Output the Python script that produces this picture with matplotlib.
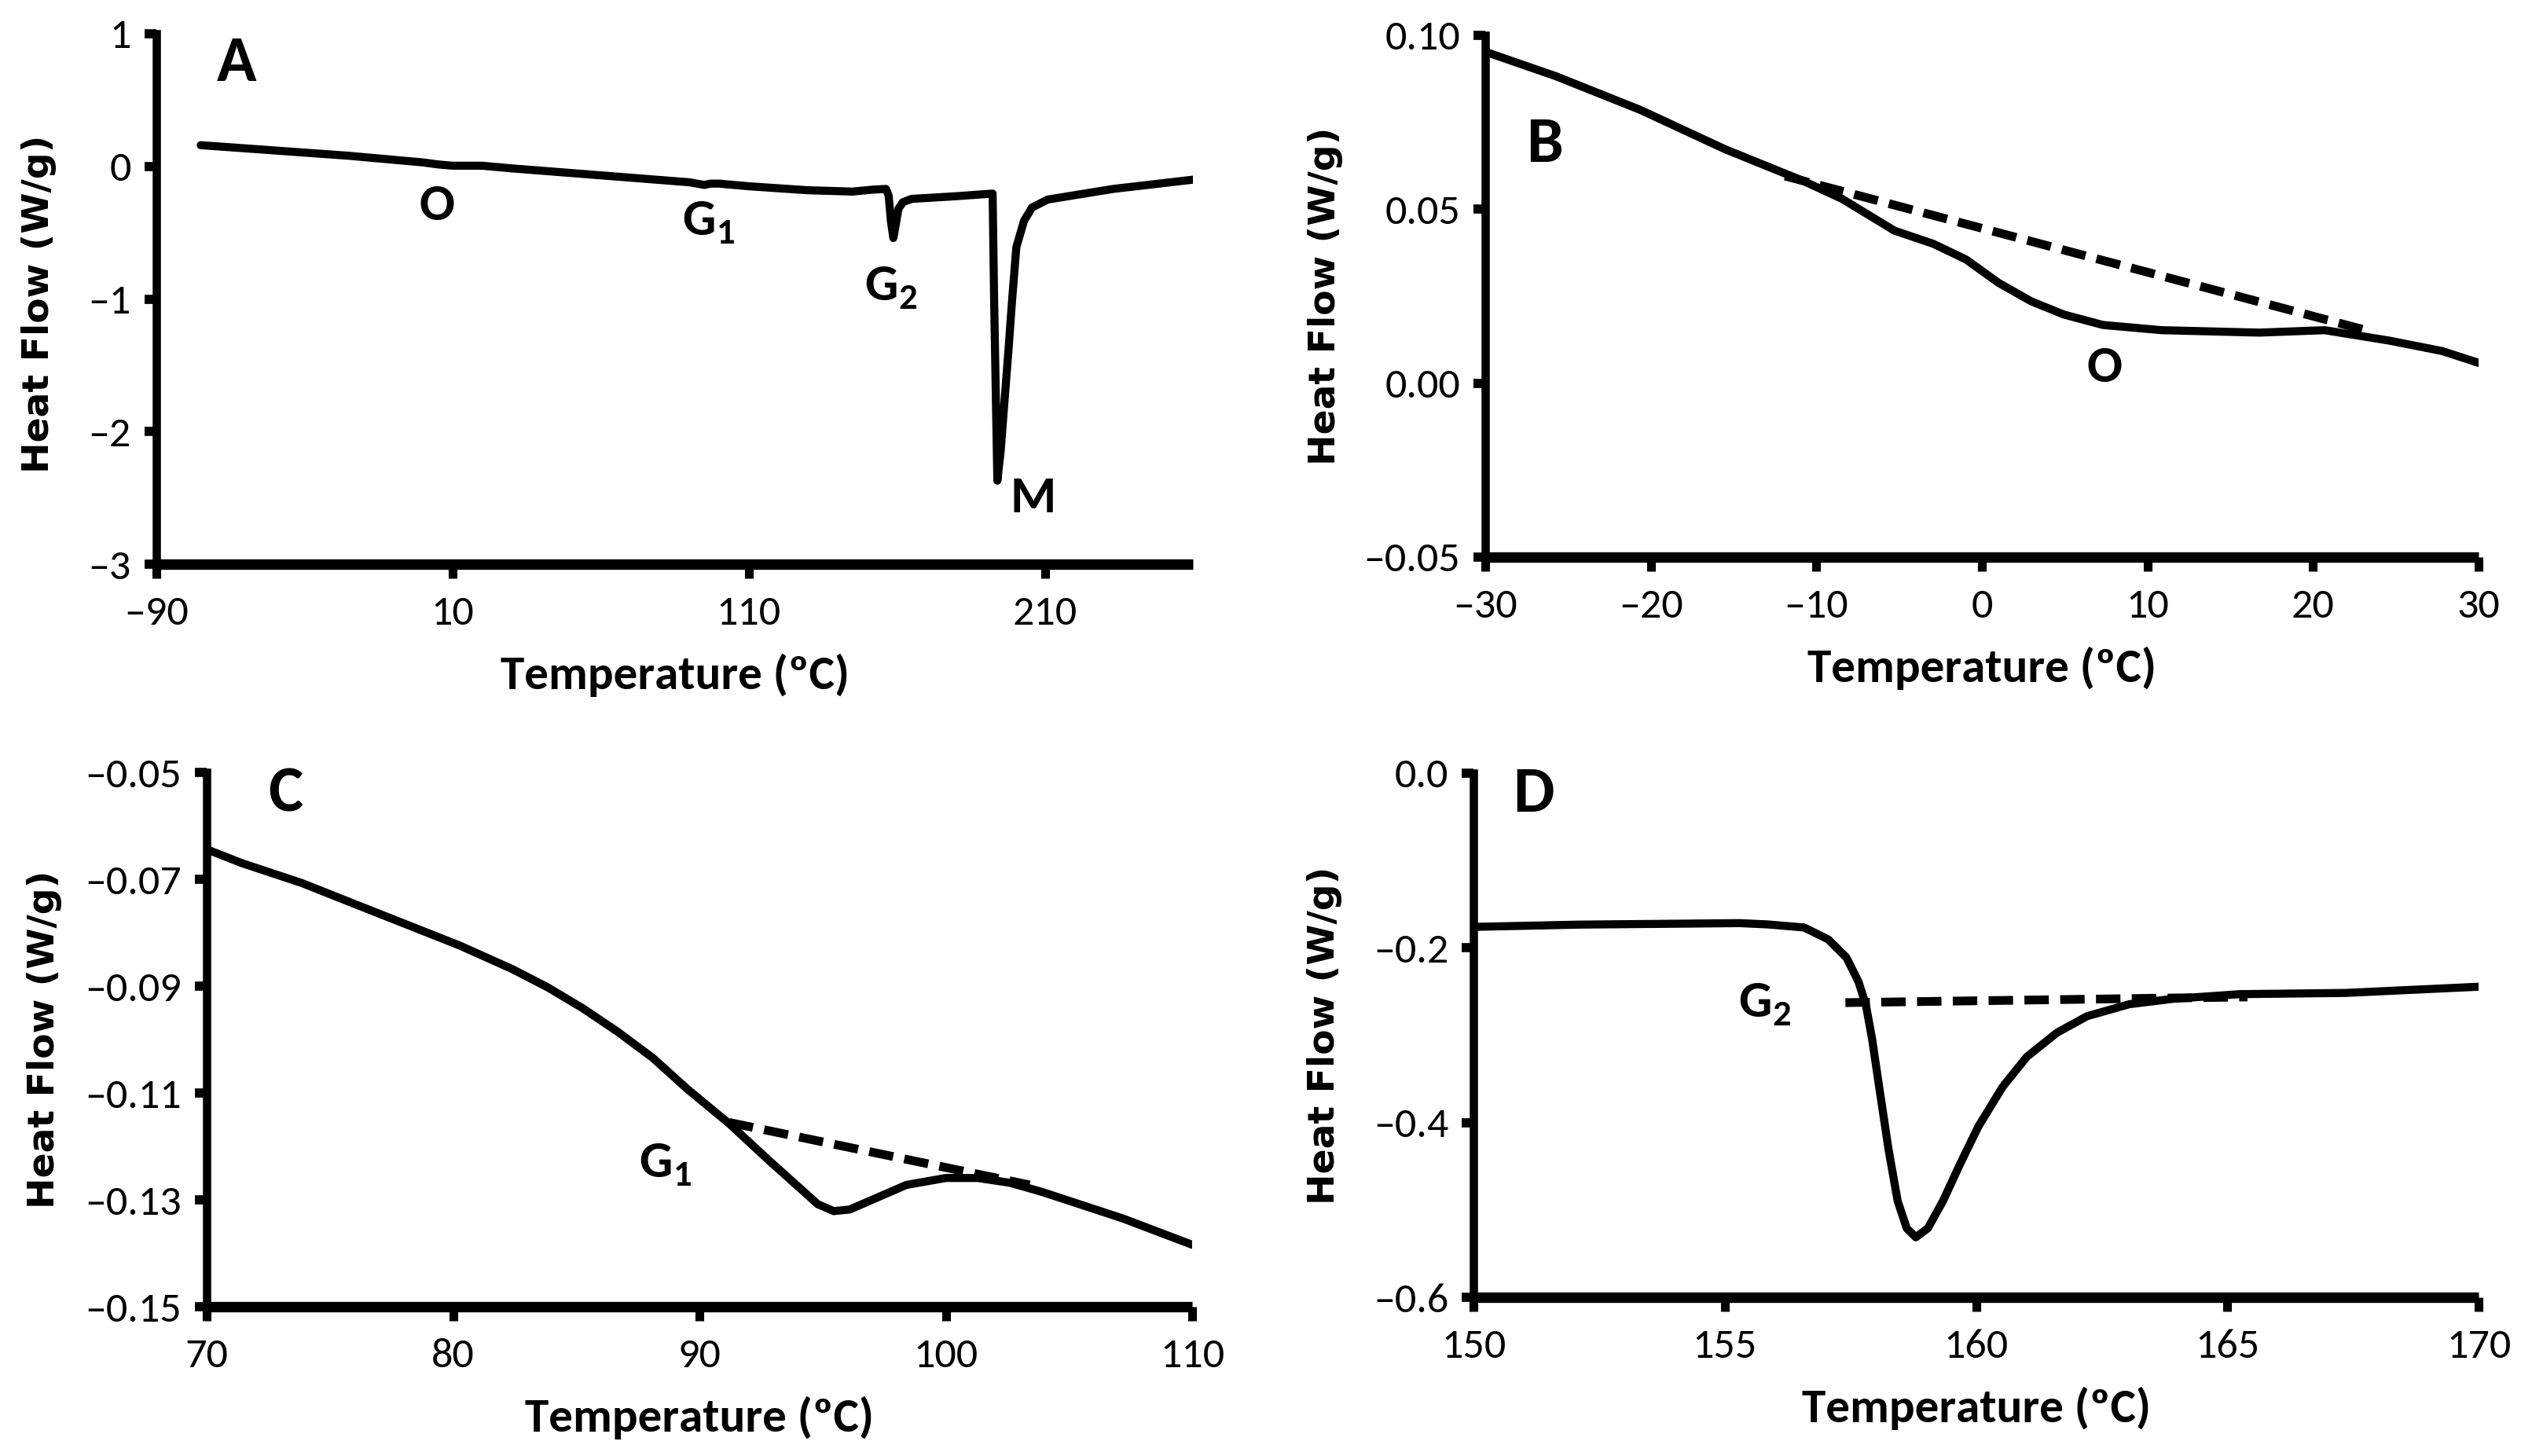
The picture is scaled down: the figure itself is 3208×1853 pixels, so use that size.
import matplotlib
matplotlib.use('Agg')
import matplotlib.pyplot as plt
from matplotlib import font_manager
from matplotlib.ticker import FixedLocator, FuncFormatter

# ---- data (temperature in C, heat flow in W/g) ----
a_temp = [-75, -50, -25, 0, 5, 10, 20, 30, 50, 70, 90, 95, 97, 100, 110, 130, 145,
          152, 156.3, 157.2, 158.0, 158.8, 159.6, 160.5, 162, 165, 180, 192.3,
          192.8, 193.6, 193.9, 195.0, 196.2, 197.6, 198.9, 200.3, 202.9, 205.6,
          210.9, 233, 260]
a_flow = [0.16, 0.12, 0.08, 0.03, 0.015, 0.005, 0.005, -0.015, -0.05, -0.085, -0.12,
          -0.14, -0.13, -0.13, -0.15, -0.18, -0.19, -0.175, -0.17, -0.22, -0.42,
          -0.54, -0.44, -0.32, -0.27, -0.245, -0.225, -0.205, -1.0, -2.0, -2.37,
          -2.15, -1.80, -1.40, -1.00, -0.61, -0.41, -0.31, -0.25, -0.17, -0.10]

b_temp = [-30, -25.75, -20.64, -15.52, -10.8, -8.44, -5.29, -2.93, -0.96, 1.0, 2.97,
          4.94, 7.3, 10.85, 16.75, 20.7, 24.6, 27.8, 30]
b_flow = [0.0952, 0.0882, 0.0785, 0.0672, 0.0581, 0.0529, 0.0438, 0.0400, 0.0355,
          0.0288, 0.0235, 0.0197, 0.0167, 0.0152, 0.0145, 0.0152, 0.0122, 0.0092,
          0.0058]
b_base_temp = [-11.9, 23.5]
b_base_flow = [0.0595, 0.0148]

c_temp = [70, 71.44, 73.86, 75.99, 78.13, 80.27, 82.4, 83.83, 85.25, 86.67, 88.1,
          89.52, 91.2, 92.84, 94.15, 94.8, 95.45, 96.1, 97.1, 98.4, 100, 101.3,
          102.6, 103.9, 107.2, 110]
c_flow = [-0.0644, -0.0670, -0.0707, -0.0746, -0.0785, -0.0824, -0.0868, -0.0902,
          -0.0941, -0.0985, -0.1034, -0.1093, -0.1157, -0.1227, -0.1281, -0.1308,
          -0.1321, -0.1318, -0.1298, -0.1272, -0.1259, -0.1259, -0.1268, -0.1285,
          -0.1335, -0.1384]
c_base_temp = [91.2, 103.4]
c_base_flow = [-0.1155, -0.1272]

d_temp = [150, 152.1, 155.3, 155.86, 156.58, 157.06, 157.42, 157.66, 157.81, 157.93,
          158.08, 158.26, 158.44, 158.62, 158.8, 159.04, 159.34, 159.7, 160.05,
          160.53, 161.01, 161.61, 162.21, 163.05, 163.94, 165.25, 167.35, 170]
d_flow = [-0.176, -0.1734, -0.1717, -0.1732, -0.1767, -0.1904, -0.211, -0.2387,
          -0.2662, -0.304, -0.3625, -0.4314, -0.4899, -0.521, -0.5313, -0.521,
          -0.4899, -0.4452, -0.404, -0.359, -0.3247, -0.2971, -0.2782, -0.2645,
          -0.2582, -0.253, -0.2516, -0.2445]
d_base_temp = [157.4, 165.4]
d_base_flow = [-0.2627, -0.2562]

a_xticks = [-90, 10, 110, 210]
a_yticks = [1, 0, -1, -2, -3]
b_xticks = [-30, -20, -10, 0, 10, 20, 30]
b_yticks = [0.10, 0.05, 0.00, -0.05]
c_xticks = [70, 80, 90, 100, 110]
c_yticks = [-0.05, -0.07, -0.09, -0.11, -0.13, -0.15]
d_xticks = [150, 155, 160, 165, 170]
d_yticks = [0.0, -0.2, -0.4, -0.6]

# Carlito has Calibri metrics, which is what the original figure was set in
installed = {f.name for f in font_manager.fontManager.ttflist}
narrow = [f for f in ['Carlito', 'Roboto', 'DejaVu Sans'] if f in installed]

plt.rcParams['mathtext.fontset'] = 'custom'
plt.rcParams['mathtext.bf'] = narrow[0] + ':bold'
plt.rcParams['mathtext.rm'] = narrow[0]


def dash_fmt(decimals):
    # tick labels use an en dash for the minus sign
    def f(v, pos):
        s = f"{abs(v):.{decimals}f}"
        return ('\u2013' + s) if v < -1e-12 else s
    return FuncFormatter(f)


def style_axis(ax, xlim, ylim, xticks, yticks, ydec):
    ax.set_xlim(*xlim)
    ax.set_ylim(*ylim)
    for side in ['top', 'right']:
        ax.spines[side].set_visible(False)
    ax.spines['left'].set_linewidth(3.8)
    ax.spines['bottom'].set_linewidth(4.8)
    ax.spines['bottom'].set_capstyle('butt')
    ax.xaxis.set_major_locator(FixedLocator(xticks))
    ax.yaxis.set_major_locator(FixedLocator(yticks))
    ax.xaxis.set_major_formatter(dash_fmt(0))
    ax.yaxis.set_major_formatter(dash_fmt(ydec))
    ax.tick_params(axis='x', direction='out', length=6.5, width=4.0, pad=8,
                   labelsize=19.5)
    ax.tick_params(axis='y', direction='out', length=5.5, width=4.2, pad=6,
                   labelsize=19.5)
    for lab in ax.get_xticklabels() + ax.get_yticklabels():
        lab.set_family(narrow)
    ax.set_xlabel('Temperature (\u00baC)', fontsize=22, fontweight='bold',
                  family=narrow, labelpad=10)
    ax.set_ylabel('Heat Flow (W/g)', fontsize=17, fontweight='bold',
                  family='DejaVu Sans')


def note(ax, x, y, s, size=24):
    ax.text(x, y, s, fontsize=size, fontweight='bold', family=narrow,
            ha='center', va='center')


fig = plt.figure(figsize=(16.04, 9.265), dpi=200)
ax_a = fig.add_axes([0.062, 0.6125, 0.4113, 0.3643])
ax_b = fig.add_axes([0.5892, 0.6174, 0.394, 0.3585])
ax_c = fig.add_axes([0.082, 0.1025, 0.3909, 0.367])
ax_d = fig.add_axes([0.5845, 0.109, 0.3987, 0.360])

line_kw = dict(color='black', lw=3.7, solid_joinstyle='round', solid_capstyle='round')
dash_kw = dict(color='black', lw=4.0, dashes=(2.8, 1.3))

# A: full scan
ax_a.plot(a_temp, a_flow, **line_kw)
style_axis(ax_a, (-90, 260), (-3, 1), a_xticks, a_yticks, 0)
note(ax_a, -63, 0.78, 'A', 30)
note(ax_a, 4.6, -0.30, 'O')
note(ax_a, 96.5, -0.43, r'G$_\mathbf{1}$')
note(ax_a, 158, -0.92, r'G$_\mathbf{2}$')
note(ax_a, 206, -2.5, 'M')

# B: low temperature transition
ax_b.plot(b_temp, b_flow, **line_kw)
ax_b.plot(b_base_temp, b_base_flow, **dash_kw)
style_axis(ax_b, (-30, 30), (-0.05, 0.10), b_xticks, b_yticks, 2)
note(ax_b, -26.4, 0.0687, 'B', 30)
note(ax_b, 7.4, 0.0043, 'O')

# C: first glass transition
ax_c.plot(c_temp, c_flow, **line_kw)
ax_c.plot(c_base_temp, c_base_flow, **dash_kw)
style_axis(ax_c, (70, 110), (-0.15, -0.05), c_xticks, c_yticks, 2)
note(ax_c, 73.2, -0.054, 'C', 30)
note(ax_c, 88.6, -0.1235, r'G$_\mathbf{1}$')

# D: second glass transition
ax_d.plot(d_temp, d_flow, **line_kw)
ax_d.plot(d_base_temp, d_base_flow, **dash_kw)
style_axis(ax_d, (150, 170), (-0.6, 0.0), d_xticks, d_yticks, 1)
note(ax_d, 151.2, -0.024, 'D', 30)
note(ax_d, 155.8, -0.265, r'G$_\mathbf{2}$')

ax_a.yaxis.set_label_coords(-0.096, 0.49)
ax_b.yaxis.set_label_coords(-0.143, 0.5)
ax_c.yaxis.set_label_coords(-0.147, 0.5)
ax_d.yaxis.set_label_coords(-0.131, 0.5)

fig.savefig('out.png', dpi=200)
